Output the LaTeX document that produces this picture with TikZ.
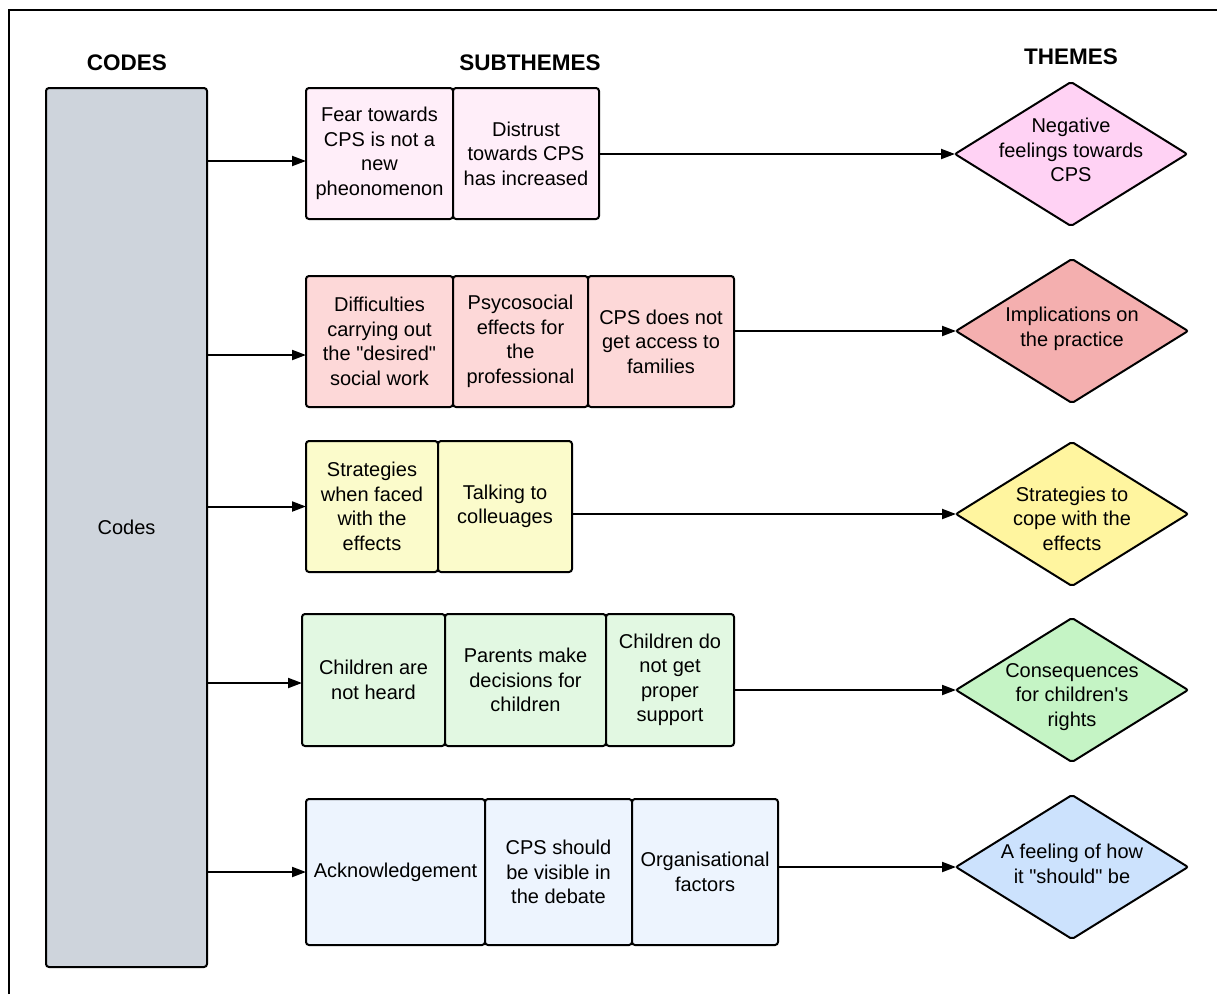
\documentclass[tikz,border=0pt]{standalone}
\usepackage{fontspec}
\setmainfont{Liberation Sans}
\usetikzlibrary{positioning,shapes.geometric,arrows.meta}

\definecolor{codegray}{HTML}{CED4DC}
\definecolor{pinkbox}{HTML}{FFEEF9}
\definecolor{pinkdia}{HTML}{FFD2F4}
\definecolor{redbox}{HTML}{FDD8D8}
\definecolor{reddia}{HTML}{F4AFAF}
\definecolor{yelbox}{HTML}{FBFBCB}
\definecolor{yeldia}{HTML}{FFF59F}
\definecolor{grnbox}{HTML}{E2F8E2}
\definecolor{grndia}{HTML}{C5F4C5}
\definecolor{blubox}{HTML}{EDF4FE}
\definecolor{bludia}{HTML}{CCE2FD}

\tikzset{
  box/.style={draw,line width=2pt,rounded corners=3pt,outer sep=0pt,inner sep=2pt,
    align=center,minimum height=131pt,font=\fontsize{20}{24.5}\selectfont},
  theme/.style={diamond,draw,line width=2pt,rounded corners=2pt,outer sep=0pt,
    inner sep=0pt,minimum width=232pt,minimum height=144pt},
  themetext/.style={align=center,font=\fontsize{20}{24.5}\selectfont},
  head/.style={font=\fontsize{22.5}{27}\selectfont\bfseries},
  arr/.style={-{Triangle[length=14pt,width=10pt]},line width=2pt},
}

\begin{document}
\begin{tikzpicture}[x=1pt,y=-1pt]
  \useasboundingbox (0,0) rectangle (1217,994);
  \draw[line width=2.5pt] (9,994) -- (9,10) -- (1217,10);

  % headings
  \node[head] (hcodes) at (127,63) {CODES};
  \node[head] (hsub) at (530,63) {SUBTHEMES};
  \node[head] (hthemes) at (1071,57) {THEMES};

  % codes column
  \node[box,fill=codegray,minimum width=161pt,minimum height=879pt] (codes) at (126.5,527.5) {Codes};

  % subthemes
  \node[box,fill=pinkbox,minimum width=147pt] (r1a) at (379.5,153.5) {Fear towards\\CPS is not a\\new\\pheonomenon};
  \node[box,fill=pinkbox,minimum width=146pt,right=0pt of r1a] (r1b) {Distrust\\towards CPS\\has increased};

  \node[box,fill=redbox,minimum width=147pt] (r2a) at (379.5,341.5) {Difficulties\\carrying out\\the \textquotedbl desired\textquotedbl\\social work};
  \node[box,fill=redbox,minimum width=135pt,right=0pt of r2a] (r2b) {Psycosocial\\effects for\\the\\professional};
  \node[box,fill=redbox,minimum width=146pt,right=0pt of r2b] (r2c) {CPS does not\\get access to\\families};

  \node[box,fill=yelbox,minimum width=132pt] (r3a) at (372,506.5) {Strategies\\when faced\\with the\\effects};
  \node[box,fill=yelbox,minimum width=134pt,right=0pt of r3a] (r3b) {Talking to\\colleuages};

  \node[box,fill=grnbox,minimum width=143pt,minimum height=132pt] (r4a) at (373.5,680) {Children are\\not heard};
  \node[box,fill=grnbox,minimum width=161pt,minimum height=132pt,right=0pt of r4a] (r4b) {Parents make\\decisions for\\children};
  \node[box,fill=grnbox,minimum width=128pt,minimum height=132pt,right=0pt of r4b] (r4c) {Children do\\not get\\proper\\support};

  \node[box,fill=blubox,minimum width=179pt,minimum height=146pt] (r5a) at (395.5,872) {Acknowledgement};
  \node[box,fill=blubox,minimum width=147pt,minimum height=146pt,right=0pt of r5a] (r5b) {CPS should\\be visible in\\the debate};
  \node[box,fill=blubox,minimum width=146pt,minimum height=146pt,right=0pt of r5b] (r5c) {Organisational\\factors};

  % themes
  \node[theme,fill=pinkdia] (t1) at (1071,154) {};
  \node[themetext] (t1l) at (1071,150) {Negative\\feelings towards\\CPS};
  \node[theme,fill=reddia] (t2) at (1072,331) {};
  \node[themetext] (t2l) at (1072,329) {Implications on\\the practice};
  \node[theme,fill=yeldia] (t3) at (1072,514) {};
  \node[themetext] (t3l) at (1072,518.5) {Strategies to\\cope with the\\effects};
  \node[theme,fill=grndia] (t4) at (1072,690) {};
  \node[themetext] (t4l) at (1072,697) {Consequences\\for children\textquotesingle s\\rights};
  \node[theme,fill=bludia] (t5) at (1072,867) {};
  \node[themetext] (t5l) at (1072,864) {A feeling of how\\it \textquotedbl should\textquotedbl\ be};

  % codes -> subthemes
  \coordinate (in1) at ([yshift=-7.5pt]r1a.west);
  \coordinate (in2) at ([yshift=-13.5pt]r2a.west);
  \coordinate (in3) at (r3a.west);
  \coordinate (in4) at ([yshift=-3pt]r4a.west);
  \coordinate (in5) at (r5a.west);
  \foreach \i in {1,...,5}
    \draw[arr] (codes.east |- in\i) -- (in\i);

  % subthemes -> themes
  \draw[arr] (r1b.east |- t1.west) -- (t1.west);
  \draw[arr] (r2c.east |- t2.west) -- (t2.west);
  \draw[arr] (r3b.east |- t3.west) -- (t3.west);
  \draw[arr] (r4c.east |- t4.west) -- (t4.west);
  \draw[arr] (r5c.east |- t5.west) -- (t5.west);
\end{tikzpicture}
\end{document}
